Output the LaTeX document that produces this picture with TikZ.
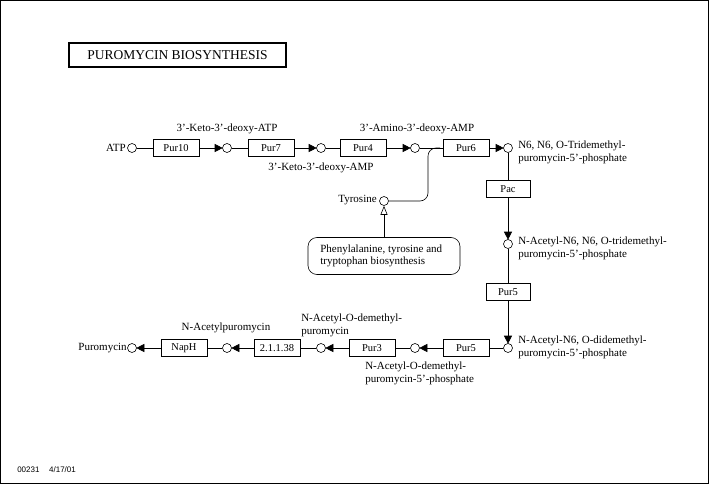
\documentclass[tikz,border=0pt]{standalone}
\usepackage{fontspec}
\setmainfont{Liberation Serif}
\setsansfont{Liberation Sans}
\usetikzlibrary{arrows.meta}
\newcommand\ap{\char"0027\relax}
\tikzset{
  cpd/.style={circle, draw, fill=white, minimum size=9pt, inner sep=0pt},
  enz/.style={draw, minimum width=46pt, minimum height=17pt, inner sep=0pt, font=\fontsize{10.5}{12}\selectfont},
  lbl/.style={inner sep=0pt, font=\fontsize{11}{12.5}\selectfont, align=left},
  rxn/.style={-{Triangle[length=8pt,width=8pt]}, shorten >=-0.5pt},
  link/.style={-{Triangle[open,length=9pt,width=7pt]}}
}
\begin{document}
\begin{tikzpicture}[x=1pt,y=-1pt,line width=0.6pt]
\useasboundingbox (0,0) rectangle (709,484);
\draw[line width=1pt] (0.5,0.5) rectangle (708.5,483.5);
% title
\node[draw, line width=2.5pt, minimum width=217pt, minimum height=24pt, inner sep=0pt, font=\fontsize{13.5}{15}\selectfont] (title) at (177.5,55) {PUROMYCIN BIOSYNTHESIS};
% top row
\node[cpd] (c1) at (132,148) {};
\node[lbl, anchor=east] (l1) at (126,148) {ATP};
\node[enz] (pur10) at (176,148) {Pur10};
\node[cpd] (c2) at (227,148) {};
\node[lbl] (l2) at (227,129) {3\ap-Keto-3\ap-deoxy-ATP};
\node[enz] (pur7) at (271,148) {Pur7};
\node[cpd] (c3) at (321,148) {};
\node[lbl] (l3) at (321,168) {3\ap-Keto-3\ap-deoxy-AMP};
\node[enz] (pur4) at (363,148) {Pur4};
\node[cpd] (c4) at (415,148) {};
\node[lbl] (l4) at (417,129) {3\ap-Amino-3\ap-deoxy-AMP};
\node[enz] (pur6) at (466,148) {Pur6};
\node[cpd] (c5) at (508,148) {};
\node[lbl, anchor=north west] (l5) at (518,141) {N6, N6, O-Tridemethyl-\\puromycin-5\ap-phosphate};
% vertical
\node[enz, minimum width=44pt] (pac) at (508,189) {Pac};
\node[cpd] (c6) at (508,244) {};
\node[lbl, anchor=north west] (l6) at (518,237) {N-Acetyl-N6, N6, O-tridemethyl-\\puromycin-5\ap-phosphate};
\node[enz, minimum width=44pt] (pur5a) at (508,292) {Pur5};
\node[cpd] (c7) at (508,348) {};
\node[lbl, anchor=north west] (l7) at (518,336) {N-Acetyl-N6, O-didemethyl-\\puromycin-5\ap-phosphate};
% bottom row
\node[enz] (pur5b) at (466,348) {Pur5};
\node[cpd] (c8) at (415,348) {};
\node[lbl, anchor=north west] (l8) at (365,362) {N-Acetyl-O-demethyl-\\puromycin-5\ap-phosphate};
\node[enz] (pur3) at (372,348) {Pur3};
\node[cpd] (c9) at (321,348) {};
\node[lbl, anchor=south west] (l9) at (301,337) {N-Acetyl-O-demethyl-\\puromycin};
\node[enz] (ec) at (277,348) {2.1.1.38};
\node[cpd] (c10) at (227,348) {};
\node[lbl] (l10) at (226,328) {N-Acetylpuromycin};
\node[enz] (naph) at (184,348) {NapH};
\node[cpd] (c11) at (132,348) {};
\node[lbl, anchor=east] (l11) at (127,348) {Puromycin};
% tyrosine
\node[cpd] (tyr) at (384,201) {};
\node[lbl, anchor=east] (ltyr) at (377,200) {Tyrosine};
\node[draw, rounded corners=9pt, minimum width=152pt, minimum height=37pt, inner sep=0pt] (phe) at (384,256) {};
\node[lbl, anchor=west] (lphe) at (320,256) {Phenylalanine, tyrosine and\\tryptophan biosynthesis};
% connectors
\draw (c1) -- (pur10);
\draw[rxn] (pur10) -- (c2);
\draw (c2) -- (pur7);
\draw[rxn] (pur7) -- (c3);
\draw (c3) -- (pur4);
\draw[rxn] (pur4) -- (c4);
\draw (c4) -- (pur6);
\draw[rxn] (pur6) -- (c5);
\draw (c5) -- (pac);
\draw[rxn] (pac) -- (c6);
\draw (c6) -- (pur5a);
\draw[rxn] (pur5a) -- (c7);
\draw (c7) -- (pur5b);
\draw[rxn] (pur5b) -- (c8);
\draw (c8) -- (pur3);
\draw[rxn] (pur3) -- (c9);
\draw (c9) -- (ec);
\draw[rxn] (ec) -- (c10);
\draw (c10) -- (naph);
\draw[rxn] (naph) -- (c11);
\coordinate (j) at (440,148);
\draw[rounded corners=8pt] (tyr) -- (428,201) -- (428,148) -- (j);
\draw[link] (phe) -- (tyr);
% footer
\node[inner sep=0pt, anchor=west, font=\sffamily\fontsize{8}{10}\selectfont] (foot) at (17,470) {00231\hspace{1.2em}4/17/01};
\end{tikzpicture}
\end{document}
